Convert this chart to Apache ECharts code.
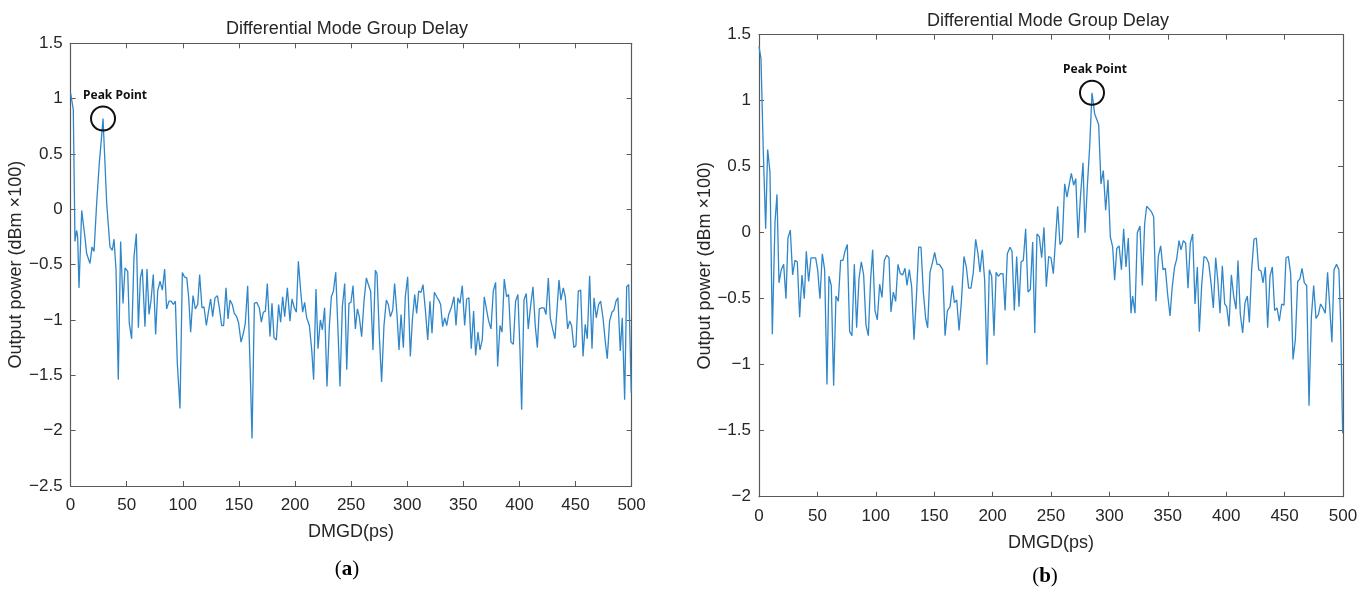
<!DOCTYPE html>
<html>
<head>
<meta charset="utf-8">
<script src="https://cdn.jsdelivr.net/npm/echarts@6/dist/echarts.min.js"></script>
<style>
html,body{margin:0;padding:0;background:#fff;}
#chart{width:1370px;height:590px;}
</style>
</head>
<body>
<div id="chart"></div>
<script>
// ---------- data ----------
const titleText = 'Differential Mode Group Delay';
const xName = 'DMGD(ps)';
const yName = 'Output power (dBm \u00d7100)';
const peakText = 'Peak Point';

// (a)
const dmgdA = [0,2.4,3.9,5.4,6.3,7.5,9.9,11.3,12.8,14.3,17.3,19.1,20.9,23.2,25.6,27.4,28.9,30.1,32.2,35.1,37.2,38.7,40.5,42.5,44.6,46.7,48.5,50.9,52.3,54.4,56.5,58.6,60.4,62.2,63.9,66.3,68.1,69.9,71.7,73.7,75.8,77.6,79.7,81.8,83.8,85.6,87.7,89.5,91.6,93.4,95.1,97.5,99.6,101.4,103.5,105.2,107.0,109.1,111.2,113.3,115.0,117.1,118.9,121.0,123.1,124.8,126.6,128.7,130.8,132.6,134.6,136.4,138.5,140.3,142.1,144.1,145.9,148.0,149.8,151.9,154.0,155.7,157.8,159.9,161.7,163.8,165.8,168.2,170.0,171.8,173.6,175.3,177.7,179.5,181.3,183.4,185.4,187.2,189.0,190.8,193.2,195.5,197.3,199.4,201.2,203.0,205.1,206.8,208.6,210.4,212.8,214.9,216.6,218.7,220.5,222.6,224.4,226.4,228.5,230.6,232.4,234.2,236.3,238.3,240.1,242.2,244.3,246.1,248.1,249.9,251.7,253.8,255.6,257.3,259.4,261.5,263.6,265.4,267.4,269.5,271.6,273.1,275.2,277.2,279.3,281.4,283.2,285.0,287.1,288.8,290.9,292.7,294.5,296.6,298.3,300.4,302.8,304.6,306.7,308.4,310.2,312.3,314.1,316.2,318.3,320.3,322.1,324.2,326.3,328.1,329.8,331.6,333.4,335.2,337.0,339.3,341.7,343.5,345.2,347.0,349.1,351.2,353.0,355.0,357.1,359.2,361.0,363.1,364.9,366.9,368.7,370.8,372.6,374.7,376.7,378.8,380.6,382.7,384.5,386.5,388.6,390.4,392.5,394.6,396.6,398.7,400.5,402.0,404.1,406.1,407.9,410.0,412.1,414.2,416.0,417.7,419.8,421.9,423.7,425.8,427.5,429.6,431.7,433.5,435.3,437.0,439.1,440.9,443.0,444.8,446.5,448.6,450.4,452.5,454.6,456.7,458.7,460.5,462.6,464.7,466.5,468.5,470.6,472.4,474.5,476.6,478.3,480.4,482.5,484.3,486.1,487.8,489.9,491.7,493.8,495.6,497.4,499.7];
const powerA = [1.05,0.90,-0.29,-0.19,-0.25,-0.71,-0.01,-0.13,-0.25,-0.40,-0.49,-0.34,-0.38,0.05,0.42,0.63,0.82,0.54,0.05,-0.34,-0.37,-0.27,-0.55,-1.54,-0.29,-0.85,-0.53,-0.56,-1.03,-1.17,-0.43,-0.22,-1.07,-0.62,-0.54,-1.06,-0.54,-0.95,-0.82,-0.59,-1.13,-0.74,-0.65,-0.73,-0.54,-0.90,-0.83,-0.83,-0.86,-0.83,-1.39,-1.80,-0.57,-0.61,-0.62,-0.79,-1.11,-0.78,-0.90,-0.86,-0.59,-0.89,-0.88,-1.05,-0.91,-0.81,-0.97,-0.80,-0.78,-0.89,-1.05,-1.05,-0.71,-0.99,-0.82,-0.86,-0.94,-0.97,-1.03,-1.20,-1.12,-1.03,-0.69,-1.39,-2.07,-0.85,-0.84,-0.89,-1.02,-0.93,-0.92,-0.67,-1.15,-0.85,-1.16,-1.18,-0.86,-1.02,-0.79,-0.97,-0.71,-1.01,-0.81,-0.89,-0.93,-0.47,-0.74,-0.93,-0.84,-0.98,-1.05,-1.27,-1.54,-0.72,-1.26,-1.00,-1.09,-0.89,-1.60,-1.06,-0.79,-0.74,-0.57,-1.09,-1.60,-0.88,-0.67,-1.45,-0.85,-0.84,-0.69,-1.08,-0.90,-0.97,-1.15,-0.83,-0.62,-0.68,-0.74,-1.27,-0.55,-0.58,-1.15,-1.56,-1.05,-0.82,-0.86,-0.97,-0.91,-0.67,-0.95,-1.27,-0.95,-1.25,-0.79,-0.61,-1.33,-1.00,-0.77,-0.94,-0.74,-0.75,-0.68,-0.91,-1.18,-0.83,-1.12,-0.75,-0.79,-0.82,-0.86,-1.06,-0.98,-1.05,-0.95,-0.89,-0.79,-1.05,-0.80,-0.85,-0.69,-1.05,-0.81,-0.80,-1.26,-0.92,-1.32,-1.11,-1.27,-1.18,-0.79,-0.91,-1.01,-1.08,-0.74,-0.66,-1.42,-1.05,-1.11,-0.63,-0.79,-0.77,-1.20,-1.22,-0.83,-0.77,-1.27,-1.81,-0.82,-0.76,-1.08,-0.87,-0.70,-1.06,-1.25,-0.90,-0.89,-0.89,-0.95,-0.62,-0.98,-1.08,-1.17,-0.91,-0.64,-0.82,-0.71,-0.79,-1.08,-1.01,-1.05,-1.25,-1.23,-0.74,-0.73,-1.33,-1.04,-1.17,-0.60,-1.26,-0.80,-0.98,-0.86,-0.83,-0.98,-1.20,-1.35,-1.01,-0.93,-0.91,-0.83,-0.80,-1.28,-0.98,-1.72,-0.70,-0.68,-1.66];

// (b)
const dmgdB = [0,1.7,3.7,5.7,7.4,9.4,11.4,13.7,15.4,17.1,19.1,21.1,23.1,24.8,26.8,28.8,30.8,32.8,34.8,36.8,38.8,40.5,42.5,44.5,46.5,48.5,50.2,52.2,54.2,56.2,58.2,59.9,61.9,63.9,65.9,67.9,69.9,71.9,73.6,75.6,77.6,79.6,81.6,83.6,85.6,87.6,89.6,91.6,93.6,95.6,97.3,99.3,101.3,103.3,105.3,107.3,109.3,111.3,113.0,115.0,117.0,119.0,121.0,123.0,125.0,126.7,128.7,130.7,132.7,134.7,136.7,138.7,140.7,142.7,144.4,146.4,148.4,150.4,152.4,154.4,157.3,159.3,161.3,163.6,165.6,167.3,169.3,171.3,173.3,175.5,177.5,179.5,181.5,183.5,185.5,187.5,189.2,191.2,193.2,195.2,197.2,199.2,201.2,203.0,204.9,206.9,208.9,210.7,212.6,214.9,216.6,218.6,220.6,222.6,224.4,226.3,228.3,230.3,232.3,234.3,236.1,238.0,240.0,242.0,244.0,246.0,248.0,250.0,252.0,253.7,255.7,257.7,259.7,261.7,263.7,265.7,267.4,269.4,271.2,273.2,275.2,277.4,279.1,281.1,283.1,285.1,287.4,290.8,292.8,294.8,296.8,298.8,300.8,302.8,304.5,306.3,308.3,310.3,312.2,314.2,316.2,318.5,319.9,321.9,323.9,326.2,328.2,330.2,331.9,333.9,335.9,337.9,339.9,341.9,343.9,345.9,347.9,349.9,351.9,353.8,355.8,357.6,359.6,361.3,363.3,365.3,367.3,369.3,371.3,373.3,375.3,377.0,379.0,381.0,383.0,385.0,387.0,389.0,391.0,392.9,394.7,396.7,398.7,400.4,402.4,404.4,406.4,408.4,410.1,412.1,414.1,416.1,418.1,419.8,421.8,423.8,425.8,427.8,429.8,431.5,433.5,435.5,437.5,439.5,441.5,443.5,445.5,447.5,449.5,451.2,453.2,455.2,457.2,459.2,461.2,463.1,464.9,466.9,468.9,470.9,472.9,474.9,476.9,478.9,480.8,482.8,484.8,486.8,488.5,490.5,492.3,494.5,496.5,498.0,499.7];
const powerB = [1.41,1.32,0.61,0.03,0.63,0.46,-0.77,0.08,0.29,-0.38,-0.28,-0.24,-0.50,-0.04,0.02,-0.32,-0.21,-0.22,-0.64,-0.32,-0.50,-0.14,-0.37,-0.19,-0.19,-0.19,-0.28,-0.50,-0.16,-0.28,-1.15,-0.33,-0.40,-1.16,-0.48,-0.52,-0.21,-0.21,-0.14,-0.09,-0.75,-0.78,-0.24,-0.72,-0.35,-0.22,-0.32,-0.70,-0.78,-0.35,-0.13,-0.59,-0.66,-0.39,-0.49,-0.21,-0.17,-0.19,-0.60,-0.45,-0.52,-0.24,-0.31,-0.32,-0.27,-0.40,-0.28,-0.41,-0.81,-0.50,-0.11,-0.11,-0.45,-0.65,-0.72,-0.30,-0.23,-0.15,-0.24,-0.24,-0.28,-0.78,-0.59,-0.56,-0.40,-0.53,-0.51,-0.74,-0.52,-0.18,-0.26,-0.42,-0.42,-0.30,-0.05,-0.16,-0.30,-0.13,-0.36,-1.00,-0.28,-0.33,-0.78,-0.30,-0.33,-0.31,-0.31,-0.59,-0.16,-0.11,-0.14,-0.59,-0.18,-0.56,-0.22,-0.21,0.03,-0.45,-0.43,-0.07,-0.76,-0.01,-0.03,-0.19,0.04,-0.41,-0.18,-0.19,-0.31,-0.30,0.20,-0.09,-0.06,0.37,0.27,0.37,0.45,0.36,0.41,-0.04,0.27,0.53,0.00,0.35,0.65,1.06,0.90,0.82,0.37,0.47,0.17,0.40,-0.03,-0.11,-0.36,-0.12,-0.10,-0.28,0.03,-0.26,-0.04,-0.61,-0.48,-0.61,0.00,0.05,-0.40,0.07,0.20,0.18,0.16,0.12,-0.52,-0.18,-0.10,-0.28,-0.27,-0.47,-0.63,-0.41,-0.26,-0.20,-0.06,-0.13,-0.06,-0.08,-0.42,-0.08,-0.01,-0.54,-0.26,-0.75,-0.40,-0.18,-0.19,-0.23,-0.38,-0.57,-0.19,-0.37,-0.61,-0.25,-0.54,-0.56,-0.71,-0.32,-0.48,-0.58,-0.21,-0.62,-0.76,-0.53,-0.48,-0.68,-0.28,-0.05,-0.04,-0.28,-0.29,-0.38,-0.26,-0.72,-0.33,-0.26,-0.59,-0.57,-0.67,-0.54,-0.55,-0.19,-0.18,-0.31,-0.96,-0.81,-0.37,-0.35,-0.27,-0.38,-0.40,-1.31,-0.64,-0.40,-0.65,-0.62,-0.54,-0.57,-0.61,-0.30,-0.30,-0.83,-0.28,-0.24,-0.28,-0.69,-1.52];

// ---------- helpers ----------
function zip(xs, ys){ return xs.map((x,i)=>[x, ys[i]]); }
function peakIn(xs, ys, lo, hi){
  let best = -1;
  for (let i=0;i<xs.length;i++){ if (xs[i]>=lo && xs[i]<=hi && (best<0 || ys[i]>ys[best])) best=i; }
  return [xs[best], ys[best]];
}
const fmt = v => (v<0 ? '\u2212' + String(-v) : String(v));

const FONT = "'Liberation Sans Narrow','Liberation Sans','Noto Sans',sans-serif";
const AXC = '#5a5a5a';
const TXT = '#262626';
const LINE = '#2f86c9';

function axesFor(g, ymin, ymax, nameGapY){
  const common = {gridIndex:g, axisLine:{show:true, onZero:false, lineStyle:{color:AXC, width:1.2}},
    axisTick:{show:true, inside:true, length:5, lineStyle:{color:AXC}}, splitLine:{show:false}};
  return {
    x: [
      Object.assign({}, common, {type:'value', position:'bottom', min:0, max:500, interval:50,
        axisLabel:{color:TXT, fontFamily:FONT, fontSize:17, margin:11},
        name:xName, nameLocation:'middle', nameGap:37,
        nameTextStyle:{color:TXT, fontFamily:FONT, fontSize:18}}),
      Object.assign({}, common, {type:'value', position:'top', min:0, max:500, interval:50,
        axisLabel:{show:false}})
    ],
    y: [
      Object.assign({}, common, {type:'value', position:'left', min:ymin, max:ymax, interval:0.5,
        axisLabel:{color:TXT, fontFamily:FONT, fontSize:17, margin:8, formatter:fmt},
        name:yName, nameLocation:'middle', nameGap:nameGapY,
        nameTextStyle:{color:TXT, fontFamily:FONT, fontSize:18}}),
      Object.assign({}, common, {type:'value', position:'right', min:ymin, max:ymax, interval:0.5,
        axisLabel:{show:false}})
    ]
  };
}

const A = axesFor(0, -2.5, 1.5, 37);
const B = axesFor(1, -2, 1.5, 42);

function lineSeries(xi, yi, data, peak, offX){
  return {
    type:'line', xAxisIndex:xi, yAxisIndex:yi, data:data, showSymbol:false, symbol:'none',
    lineStyle:{color:LINE, width:1.3}, itemStyle:{color:LINE}, animation:false, silent:true,
    markPoint:{
      silent:true, animation:false,
      data:[{coord:peak, symbol:'circle', symbolSize:24,
        itemStyle:{color:'rgba(0,0,0,0)', borderColor:'#111', borderWidth:2},
        label:{show:true, position:'top', distance:4, offset:[offX,0], formatter:peakText,
          color:'#111', fontFamily:"'Noto Sans','Open Sans',sans-serif", fontWeight:'bold', fontSize:12}}]
    }
  };
}

const option = {
  backgroundColor:'#fff',
  animation:false,
  title:[
    {text:titleText, left:342, top:15, textAlign:'center',
      textStyle:{color:TXT, fontFamily:FONT, fontWeight:'normal', fontSize:18}},
    {text:titleText, left:1043, top:7, textAlign:'center',
      textStyle:{color:TXT, fontFamily:FONT, fontWeight:'normal', fontSize:18}},
    {text:'({b|a})', left:342, top:554, textAlign:'center',
      textStyle:{color:'#000', fontFamily:"'Liberation Serif','DejaVu Serif',serif", fontWeight:'normal', fontSize:21,
        rich:{b:{fontFamily:"'Liberation Serif','DejaVu Serif',serif", fontWeight:'bold', fontSize:21, color:'#000'}}}},
    {text:'({b|b})', left:1040, top:561, textAlign:'center',
      textStyle:{color:'#000', fontFamily:"'Liberation Serif','DejaVu Serif',serif", fontWeight:'normal', fontSize:21,
        rich:{b:{fontFamily:"'Liberation Serif','DejaVu Serif',serif", fontWeight:'bold', fontSize:21, color:'#000'}}}}
  ],
  grid:[
    {left:70.6, top:43.3, width:561, height:442.7, containLabel:false},
    {left:759, top:34.7, width:584, height:462, containLabel:false}
  ],
  xAxis:[A.x[0], A.x[1], B.x[0], B.x[1]],
  yAxis:[A.y[0], A.y[1], B.y[0], B.y[1]],
  series:[
    lineSeries(0, 0, zip(dmgdA, powerA), peakIn(dmgdA, powerA, 10, 100), 12),
    lineSeries(2, 2, zip(dmgdB, powerB), peakIn(dmgdB, powerB, 100, 400), 3)
  ]
};

const chart = echarts.init(document.getElementById('chart'), null, {renderer:'canvas'});
chart.setOption(option);
</script>
</body>
</html>
